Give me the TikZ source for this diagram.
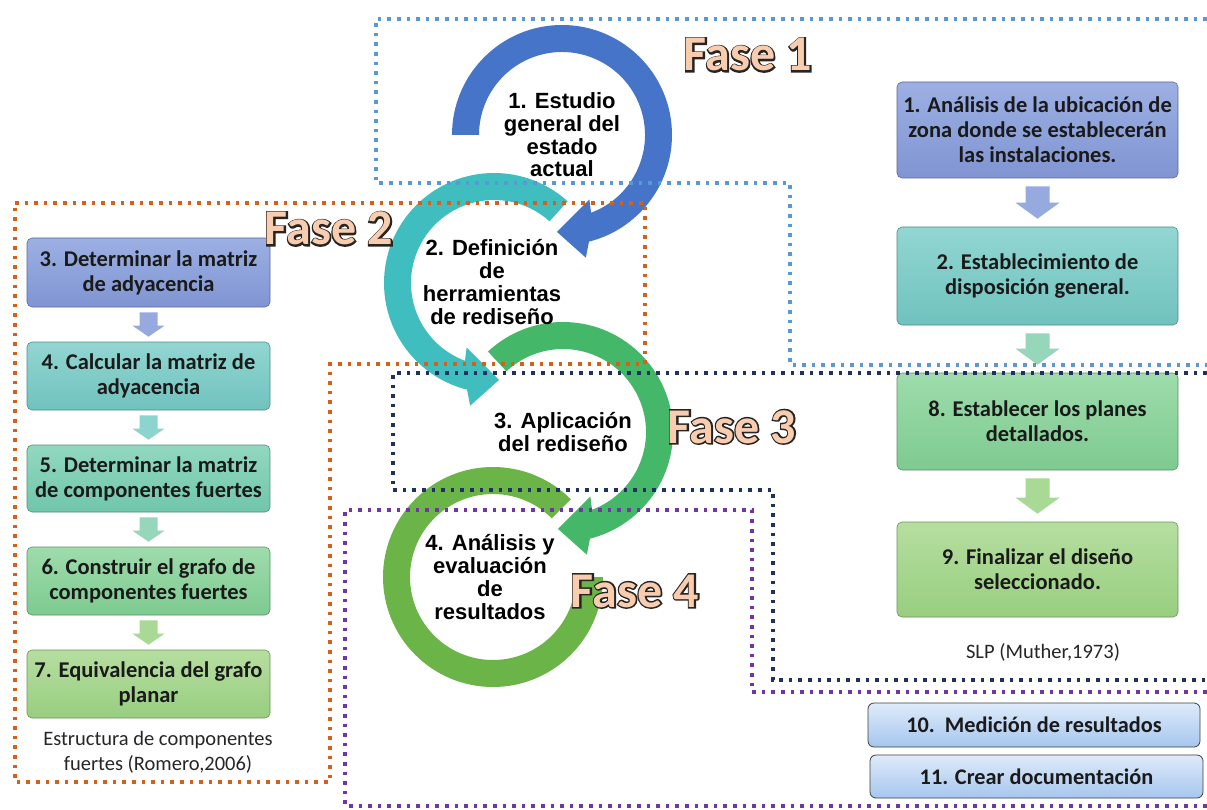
\documentclass[tikz,border=0pt]{standalone}
\usepackage{fontspec}
\setmainfont{Carlito}
\newfontfamily\ringfont{Liberation Sans}
\newfontfamily\faseoutfont{Carlito}[BoldFeatures={FakeBold=6}]
\usetikzlibrary{calc}
\definecolor{lavT}{RGB}{156,176,228}
\definecolor{lavB}{RGB}{128,148,210}
\definecolor{tealT}{RGB}{146,214,210}
\definecolor{tealB}{RGB}{112,194,190}
\definecolor{tgT}{RGB}{146,216,192}
\definecolor{tgB}{RGB}{112,198,170}
\definecolor{grT}{RGB}{158,220,172}
\definecolor{grB}{RGB}{126,202,144}
\definecolor{lgT}{RGB}{182,222,160}
\definecolor{lgB}{RGB}{152,206,128}
\definecolor{ltbT}{RGB}{222,235,250}
\definecolor{ltbB}{RGB}{166,198,238}
\definecolor{txt}{RGB}{26,26,26}
\definecolor{ringblue}{RGB}{70,116,200}
\definecolor{ringteal}{RGB}{64,189,191}
\definecolor{ringgreen}{RGB}{68,184,104}
\definecolor{ringlime}{RGB}{106,180,72}
\definecolor{dotblue}{RGB}{88,152,214}
\definecolor{dotorange}{RGB}{214,96,26}
\definecolor{dotnavy}{RGB}{32,48,96}
\definecolor{dotpurple}{RGB}{114,52,168}
\definecolor{fasefill}{RGB}{248,204,174}
\definecolor{faseline}{RGB}{40,36,34}
\definecolor{arrLav}{RGB}{150,170,224}
\definecolor{arrTeal}{RGB}{140,212,206}
\definecolor{arrTG}{RGB}{150,214,186}
\definecolor{arrGr}{RGB}{168,218,150}
\newcommand\fasetext[1]{\leavevmode
 \makebox[0pt][c]{\faseoutfont\bfseries\textcolor{faseline}{#1}}%
 \makebox[0pt][c]{\textcolor{fasefill}{#1}}}
\newcommand\blockarrow[7]{%
 \fill[#3] let \p1=(#1.south), \p2=(#2.north) in
 (\x1-#4pt,\y1-#7pt) -- (\x1+#4pt,\y1-#7pt) -- (\x1+#4pt,\y2+#7pt+#6pt)
 -- (\x1+#5pt,\y2+#7pt+#6pt) -- (\x1,\y2+#7pt) -- (\x1-#5pt,\y2+#7pt+#6pt)
 -- (\x1-#4pt,\y2+#7pt+#6pt) -- cycle;}
\tikzset{
 box/.style 2 args={rectangle, rounded corners=5pt, top color=#1, bottom color=#2,
   draw=#2!72!black, line width=0.6pt, align=center, inner sep=0pt,
   font=\bfseries\fontsize{22.5}{25}\selectfont, text=txt},
 lbox/.style={minimum width=243pt, minimum height=68pt},
 rbox/.style={minimum width=281pt, minimum height=96pt},
 fbox/.style={rectangle, rounded corners=6pt, top color=ltbT, bottom color=ltbB,
   draw=black!75, line width=0.8pt, inner sep=0pt, minimum height=44pt,
   font=\bfseries\fontsize{22.3}{25}\selectfont, text=txt},
 ringtext/.style={align=center, inner sep=0pt, text=black,
   font=\ringfont\bfseries\fontsize{22}{22.7}\selectfont},
 fase/.style={anchor=base, inner sep=0pt, font=\bfseries\fontsize{50}{50}\selectfont},
 caption/.style={align=center, inner sep=0pt, text=black!85,
   font=\fontsize{20.5}{25}\selectfont},
 dotline/.style={line width=3.6pt, dash pattern=on 3.6pt off 6pt},
}
\begin{document}
\begin{tikzpicture}[x=1pt,y=1pt]
\useasboundingbox (0,0) rectangle (1207,-810);
\fill[white] (0,0) rectangle (1207,-810);

% ---- circular arrows ----
\coordinate (c1) at (562,-135);
\coordinate (c2) at (494,-283);
\coordinate (c3) at (563,-432);
\coordinate (c4) at (493,-577);
\fill[ringlime, shift={(c4)}] (45:110) arc[start angle=45, end angle=360, radius=110]
  -- (360:83) arc[start angle=360, end angle=45, radius=83] -- cycle;
\fill[ringgreen, shift={(c3)}] (133:110) arc[start angle=133, end angle=-75.8, radius=110]
  -- (-79:125) -- (-93:97) -- (-67:70) -- (-69.5:83)
  arc[start angle=-69.5, end angle=133, radius=83] -- cycle;
\fill[ringteal, shift={(c2)}] (48:110) arc[start angle=48, end angle=255.8, radius=110]
  -- (259:125) -- (273:97) -- (247:70) -- (249.5:83)
  arc[start angle=249.5, end angle=48, radius=83] -- cycle;
\fill[ringblue, shift={(c1)}] (180:110) arc[start angle=180, end angle=-75.8, radius=110]
  -- (-79:125) -- (-93:97) -- (-67:70) -- (-69.5:83)
  arc[start angle=-69.5, end angle=180, radius=83] -- cycle;

% ---- left column ----
\node[box={lavT}{lavB}, lbox, minimum height=69pt] (l1) at (148.5,-272.5) {3. Determinar la matriz\\de adyacencia};
\node[box={tealT}{tealB}, lbox] (l2) at (148.5,-376) {4. Calcular la matriz de\\adyacencia};
\node[box={tgT}{tgB}, lbox, minimum height=67pt] (l3) at (148.5,-478.5) {5. Determinar la matriz\\de componentes fuertes};
\node[box={grT}{grB}, lbox] (l4) at (148.5,-581) {6. Construir el grafo de\\componentes fuertes};
\node[box={lgT}{lgB}, lbox] (l5) at (148.5,-684) {7. Equivalencia del grafo\\planar};
\blockarrow{l1}{l2}{arrLav}{9}{16}{11}{5}
\blockarrow{l2}{l3}{arrTeal}{9}{16}{11}{5}
\blockarrow{l3}{l4}{arrTG}{9}{16}{11}{5}
\blockarrow{l4}{l5}{arrGr}{9}{16}{11}{5}
\node[caption] (capl) at (158,-752) {Estructura de componentes\\fuertes (Romero,2006)};

% ---- right column ----
\node[box={lavT}{lavB}, rbox] (r1) at (1037.5,-130) {1. Análisis de la ubicación de\\zona donde se establecerán\\las instalaciones.};
\node[box={tealT}{tealB}, rbox, minimum height=98pt] (r2) at (1037.5,-276) {2. Establecimiento de\\disposición general.};
\node[box={grT}{grB}, rbox, minimum height=97pt] (r3) at (1037.5,-421.5) {8. Establecer los planes\\detallados.};
\node[box={lgT}{lgB}, rbox, minimum height=95pt] (r4) at (1037.5,-569.5) {9. Finalizar el diseño\\seleccionado.};
\blockarrow{r1}{r2}{arrLav}{12}{22}{16}{8}
\blockarrow{r2}{r3}{arrTG}{12}{22}{16}{8}
\blockarrow{r3}{r4}{arrGr}{12}{22}{16}{8}
\node[caption] (capr) at (1043,-652) {SLP (Muther,1973)};
\node[fbox, minimum width=332pt] (b10) at (1034,-725) {10.\ \ Medición de resultados};
\node[fbox, minimum width=333pt, minimum height=43pt] (b11) at (1036.5,-776.5) {11. Crear documentación};

% ---- dotted frames ----
\draw[dotline, dotblue] (1207,-19) -- (376,-19) -- (376,-183) -- (790,-183) -- (790,-365) -- (1207,-365);
\draw[dotline, dotorange] (15,-203) -- (645,-203) -- (645,-364) -- (330,-364) -- (330,-782) -- (15,-782) -- cycle;
\draw[dotline, dotnavy] (1207,-373) -- (393,-373) -- (393,-490) -- (773,-490) -- (773,-680) -- (1207,-680);
\draw[dotline, dotpurple] (1207,-692) -- (752,-692) -- (752,-510) -- (345,-510) -- (345,-806) -- (1207,-806);

% ---- ring texts ----
\node[ringtext] (t1) at (c1) {1. Estudio\\general del\\estado\\actual};
\node[ringtext] (t2) at (492,-282) {2. Definición\\de\\herramientas\\de rediseño};
\node[ringtext] (t3) at (c3) {3. Aplicación\\del rediseño};
\node[ringtext] (t4) at (490,-577) {4. Análisis y\\evaluación\\de\\resultados};

% ---- phase labels ----
\node[fase] (f1) at (748,-71) {\fasetext{Fase 1}};
\node[fase] (f2) at (329,-245) {\fasetext{Fase 2}};
\node[fase] (f3) at (732,-443) {\fasetext{Fase 3}};
\node[fase] (f4) at (635,-607) {\fasetext{Fase 4}};
\end{tikzpicture}
\end{document}
